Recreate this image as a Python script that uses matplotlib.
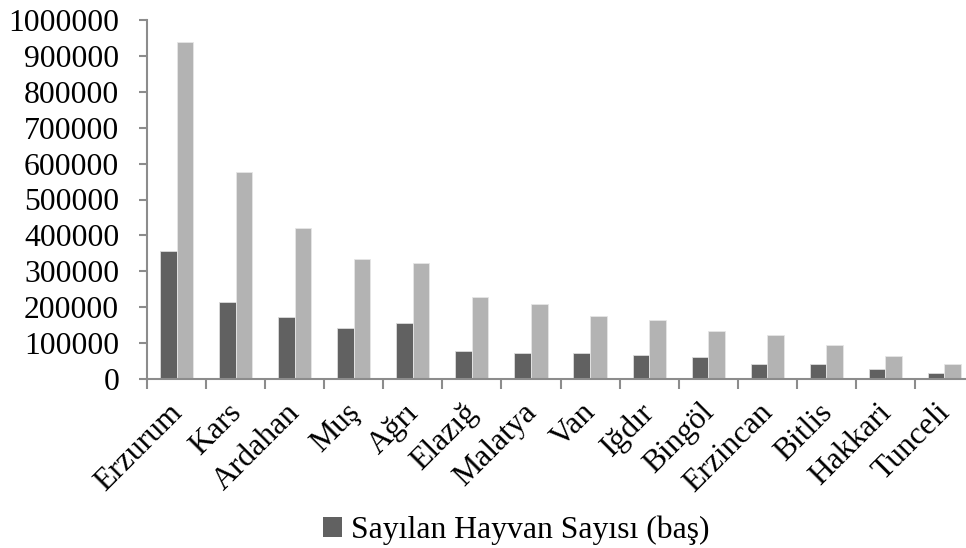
import matplotlib
matplotlib.use("Agg")
import matplotlib.pyplot as plt
import numpy as np
from matplotlib.patches import Patch

plt.rcParams['font.family'] = ['Liberation Serif', 'DejaVu Serif']

provinces = ["Erzurum", "Kars", "Ardahan", "Muş", "Ağrı", "Elazığ", "Malatya",
             "Van", "Iğdır", "Bingöl", "Erzincan", "Bitlis", "Hakkari", "Tunceli"]
counted = [357000, 215000, 173000, 141000, 157000, 79000, 71500,
           71500, 66000, 61000, 43000, 43000, 29000, 16000]
total = [938000, 577000, 420000, 334000, 324000, 228000, 210000,
         175000, 163500, 134000, 122000, 96000, 63000, 41000]
yticks = list(range(0, 1000001, 100000))
legend_label = "Sayılan Hayvan Sayısı (baş)"

FS = 22.8
W, H = 966, 548
fig = plt.figure(figsize=(W / 100, H / 100), dpi=100)
ax = fig.add_axes([147 / W, 1 - 379 / H, (974 - 147) / W, (379 - 20) / H])

x = np.arange(len(provinces))
bw = 0.28
dark = "#616161"
light = "#b3b3b3"
ax.bar(x - bw / 2, counted, bw, color=dark, edgecolor="#dcdcdc", linewidth=0.6)
ax.bar(x + bw / 2, total, bw, color=light, edgecolor="#e6e6e6", linewidth=0.6)

ax.set_xlim(-0.5, len(provinces) - 0.5)
ax.set_ylim(0, 1000000)
ax.set_yticks(yticks)
ax.set_yticklabels([str(v) for v in yticks], fontsize=FS)

axis_col = "#8c8c8c"
for s in ["top", "right"]:
    ax.spines[s].set_visible(False)
for s in ["left", "bottom"]:
    ax.spines[s].set_color(axis_col)
    ax.spines[s].set_linewidth(1.5)

ax.tick_params(axis="y", length=6, width=1.5, color=axis_col, pad=14)
ax.set_xticks(np.arange(len(provinces) + 1) - 0.5)
ax.set_xticklabels([])
ax.tick_params(axis="x", length=7, width=1.5, color=axis_col)

for i, name in enumerate(provinces):
    ax.annotate(name, xy=(i, 0), xycoords="data", xytext=(1, -21),
                textcoords="offset points", rotation=45, rotation_mode="anchor",
                ha="right", va="center", fontsize=FS, annotation_clip=False)

fig.legend(handles=[Patch(facecolor=dark, edgecolor="none")], labels=[legend_label],
           loc="center", bbox_to_anchor=(516 / W, 1 - 530 / H), frameon=False,
           fontsize=FS, handlelength=0.6, handleheight=0.6, handletextpad=0.3,
           borderpad=0)

fig.savefig("out.png", dpi=100)
